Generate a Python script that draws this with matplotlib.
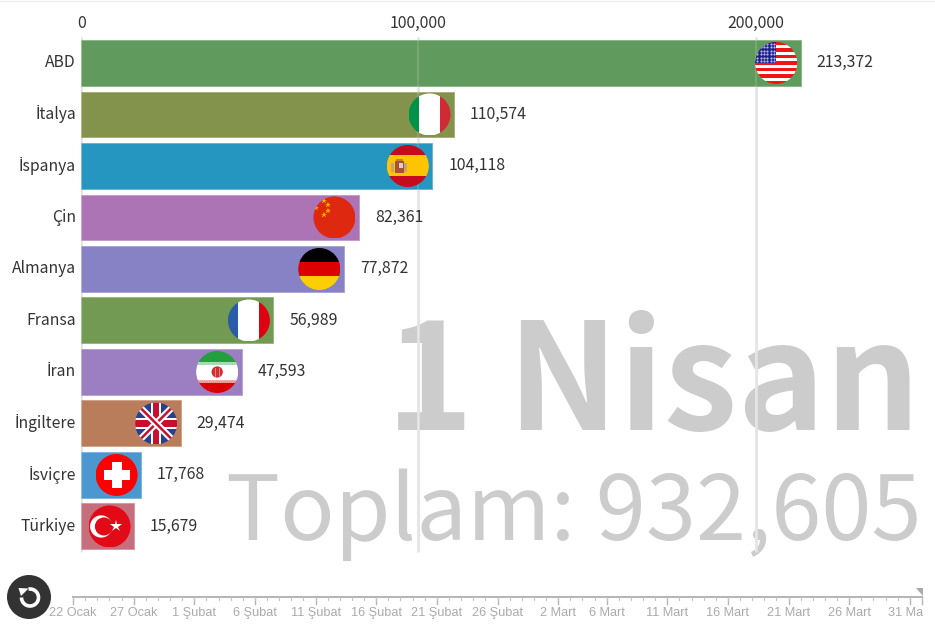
import numpy as np
import pandas as pd
import matplotlib
matplotlib.use("Agg")
import matplotlib.pyplot as plt
from matplotlib.patches import Circle, Rectangle, Polygon, Arc
from matplotlib.transforms import Bbox

W, H = 935, 634

countries = ["ABD", "İtalya", "İspanya", "Çin", "Almanya", "Fransa", "İran", "İngiltere", "İsviçre", "Türkiye"]
values = [213372, 110574, 104118, 82361, 77872, 56989, 47593, 29474, 17768, 15679]
bar_colors = ["#619a5d", "#84934c", "#2596bf", "#ad74b5", "#8781c6", "#739a52", "#9b7fc2", "#b97d5b", "#4b97cf", "#c76e7d"]
edge_colors = ["#8db68a", "#a6b07c", "#6bb5d2", "#c59ccb", "#aaa5d6", "#9bb684", "#b8a3d3", "#cda389", "#7fb5dd", "#d898a3"]
x_ticks = [0, 100000, 200000]
date_ticks = ["2020-01-22", "2020-01-27", "2020-02-01", "2020-02-06", "2020-02-11", "2020-02-16", "2020-02-21",
              "2020-02-26", "2020-03-02", "2020-03-06", "2020-03-11", "2020-03-16", "2020-03-21", "2020-03-26", "2020-03-31"]
date_labels = ["22 Ocak", "27 Ocak", "1 Şubat", "6 Şubat", "11 Şubat", "16 Şubat", "21 Şubat",
               "26 Şubat", "2 Mart", "6 Mart", "11 Mart", "16 Mart", "21 Mart", "26 Mart", "31 Mart"]
date_end = "2020-04-01"
date_title = "1 Nisan"
total_text = "Toplam: 932,605"

plt.rcParams["font.family"] = ["Noto Sans CJK SC", "DejaVu Sans"]
fig = plt.figure(figsize=(W / 100, H / 100), dpi=100, facecolor="w")


def px_rect(left, top, right, bottom):
    return [left / W, 1 - bottom / H, (right - left) / W, (bottom - top) / H]


# main bars
ax = fig.add_axes(px_rect(81.2, 32, W, 553))
ax.set_xlim(0, (W - 81.2) / 337.2 * 100000)
ax.set_ylim(9.515, -0.602)
ax.patch.set_alpha(0)
ax.barh(range(len(values)), values, height=0.893, color=bar_colors, edgecolor=edge_colors, lw=0.7, zorder=2)
ax.vlines(x_ticks, -0.5, 9.5, color="#e2e2e2", lw=2, zorder=1)
ax.vlines(x_ticks, -0.5, 9.5, color="#ffffff", lw=1.6, alpha=0.13, zorder=3)
ax.set_yticks([])
ax.set_xticks(x_ticks, [f"{x:,}" for x in x_ticks], fontsize=11.4, color="#333333")
ax.xaxis.tick_top()
ax.tick_params(length=0, axis="both")
ax.tick_params(axis="x", pad=0)
for s in ax.spines.values():
    s.set_visible(False)
for i, (name, v) in enumerate(zip(countries, values)):
    ax.annotate(name, (0, i), xytext=(-3.8, 1.6), textcoords="offset points", va="center_baseline", ha="right",
                fontsize=11.3, color="#333333", annotation_clip=False)
    ax.annotate(f"{v:,}", (v, i), xytext=(11.5, 1.6), textcoords="offset points", va="center_baseline", ha="left",
                fontsize=11.4, color="#333333", zorder=5)

# big background text
ax_bg = fig.add_axes([0, 0, 1, 1], zorder=-1)
ax_bg.set_xlim(0, W)
ax_bg.set_ylim(H, 0)
ax_bg.axis("off")
ax_bg.text(920, 430, date_title, fontsize=107, fontweight="bold", color="#cccccc", ha="right", va="baseline")
ax_bg.text(921, 540, total_text, fontsize=65, color="#cccccc", ha="right", va="baseline")


# flags, unit circle coordinates
def stripes_h(a, cols, fracs=None):
    fracs = fracs or [1 / len(cols)] * len(cols)
    top = 1.0
    for c, f in zip(cols, fracs):
        a.add_patch(Rectangle((-1, top - 2 * f), 2, 2 * f, color=c, lw=0))
        top -= 2 * f


def stripes_v(a, cols):
    a.add_patch(Rectangle((-1, -1), 0.5, 2, color=cols[0], lw=0))
    a.add_patch(Rectangle((-0.5, -1), 1, 2, color=cols[1], lw=0))
    a.add_patch(Rectangle((0.5, -1), 0.5, 2, color=cols[2], lw=0))


def flag_us(a):
    stripes_h(a, ["#f01414", "#ffffff"] * 6 + ["#f01414"])
    a.add_patch(Rectangle((-1, 0), 1, 1, color="#1c1f8f", lw=0))
    xs, ys = np.meshgrid(np.linspace(-0.9, -0.1, 6), np.linspace(0.1, 0.9, 6))
    a.plot(xs.ravel(), ys.ravel(), ls="", marker=".", ms=1.0, color="#d8d8f0")


def flag_it(a):
    stripes_v(a, ["#009246", "#ffffff", "#ce2b37"])


def flag_es(a):
    stripes_h(a, ["#c60b1e", "#ffc400", "#c60b1e"], [0.25, 0.5, 0.25])
    a.add_patch(Rectangle((-0.6, -0.32), 0.42, 0.55, color="#a8503a", lw=0))
    a.add_patch(Rectangle((-0.8, -0.28), 0.14, 0.42, color="#c9a27a", lw=0))
    a.add_patch(Rectangle((-0.16, -0.28), 0.12, 0.42, color="#c9a27a", lw=0))
    a.add_patch(Rectangle((-0.42, -0.1), 0.2, 0.26, color="#d8d0d0", lw=0))
    a.add_patch(Rectangle((-0.56, 0.22), 0.34, 0.12, color="#b8863a", lw=0))


def flag_cn(a):
    a.add_patch(Rectangle((-1, -1), 2, 2, color="#de2910", lw=0))
    a.plot([-0.52, -0.31, -0.31, -0.52, -0.87], [0.8, 0.6, 0.29, 0.1, 0.45], ls="", marker="*", ms=4.2,
           color="#ffb400", mew=0)


def flag_de(a):
    stripes_h(a, ["#000000", "#dd0000", "#ffce00"])


def flag_fr(a):
    stripes_v(a, ["#2a5ba8", "#ffffff", "#e1000f"])


def flag_ir(a):
    stripes_h(a, ["#239f40", "#ffffff", "#da0000"], [0.27, 0.45, 0.28])
    a.plot(np.linspace(-1, 1, 22), np.full(22, 0.44), ls="", marker="s", ms=1.0, color="#a6d8b2")
    a.plot(np.linspace(-1, 1, 22), np.full(22, -0.44), ls="", marker="s", ms=1.0, color="#f0a0a0")
    a.add_patch(Circle((0, 0), 0.27, color="#cf3030", lw=0))
    a.plot([-0.1, -0.1], [-0.2, 0.2], color="#ffc8c8", lw=0.4)
    a.plot([0.1, 0.1], [-0.2, 0.2], color="#ffc8c8", lw=0.4)


def flag_gb(a):
    a.add_patch(Rectangle((-1, -1), 2, 2, color="#27408f", lw=0))
    for sx in (1, -1):
        a.plot([-sx, sx], [-1, 1], color="#ffffff", lw=4.8, solid_capstyle="butt")
        a.plot([-sx, sx], [-1, 1], color="#c8102e", lw=1.8, solid_capstyle="butt")
    a.add_patch(Rectangle((-0.25, -1), 0.5, 2, color="#ffffff", lw=0))
    a.add_patch(Rectangle((-1, -0.25), 2, 0.5, color="#ffffff", lw=0))
    a.add_patch(Rectangle((-0.16, -1), 0.32, 2, color="#c8102e", lw=0))
    a.add_patch(Rectangle((-1, -0.16), 2, 0.32, color="#c8102e", lw=0))


def flag_ch(a):
    a.add_patch(Rectangle((-1, -1), 2, 2, color="#ff0000", lw=0))
    a.add_patch(Rectangle((-0.24, -0.62), 0.48, 1.24, color="#ffffff", lw=0))
    a.add_patch(Rectangle((-0.62, -0.24), 1.24, 0.48, color="#ffffff", lw=0))


def flag_tr(a):
    a.add_patch(Rectangle((-1, -1), 2, 2, color="#e30a17", lw=0))
    a.add_patch(Circle((-0.4, 0), 0.53, color="#ffffff", lw=0))
    a.add_patch(Circle((-0.27, 0), 0.43, color="#e30a17", lw=0))
    a.plot([0.32], [0], ls="", marker="*", ms=9, color="#ffffff", mew=0)


flags = [flag_us, flag_it, flag_es, flag_cn, flag_de, flag_fr, flag_ir, flag_gb, flag_ch, flag_tr]
r = 21
for i, (v, fn) in enumerate(zip(values, flags)):
    dx, dy = ax.transData.transform((v, i))
    cx = dx - 24.5
    cy = H - dy
    a = fig.add_axes(px_rect(cx - r, cy - r, cx + r, cy + r), zorder=4)
    a.set_xlim(-1, 1)
    a.set_ylim(-1, 1)
    a.axis("off")
    fn(a)
    clip = Circle((0, 0), 1, transform=a.transData)
    for art in a.patches + a.lines:
        art.set_clip_path(clip)

# timeline
ax_t = fig.add_axes(px_rect(73, 590, 922, 620))
start = pd.Timestamp(date_ticks[0])
end = pd.Timestamp(date_end)
tick_days = [(pd.Timestamp(d) - start).days for d in date_ticks]
n_days = (end - start).days
ax_t.set_xlim(0, n_days)
ax_t.set_ylim(0, 1)
ax_t.axis("off")
ax_t.plot([0, n_days], [0.77, 0.77], color="#b4b4b4", lw=1.4, clip_on=False)
for d in tick_days + [n_days]:
    ax_t.plot([d, d], [0.77, 0.53], color="#b4b4b4", lw=1, clip_on=False)
for d in range(n_days + 1):
    ax_t.plot([d, d], [0.77, 0.67], color="#c4c4c4", lw=0.8, clip_on=False)
clip_box = Bbox([[0, 0], [923, H]])
for d, lab in zip(tick_days, date_labels):
    t = ax_t.text(d, 0.22, lab, ha="center", va="center", fontsize=9.2, color="#aaaaaa",
                  family="Liberation Sans", clip_on=True)
    t.set_clip_box(clip_box)

# replay button and slider handle
ax_p = fig.add_axes([0, 0, 1, 1], zorder=6)
ax_p.set_xlim(0, W)
ax_p.set_ylim(H, 0)
ax_p.axis("off")
ax_p.axhline(0.5, color="#efefef", lw=1)
ax_p.add_patch(Circle((29, 597), 22, color="#333333", lw=0))
ax_p.add_patch(Arc((30, 597.5), 17, 17, theta1=-100, theta2=180, color="#ffffff", lw=2.6))
ax_p.add_patch(Polygon([[18.5, 588], [28.5, 588.5], [21, 596]], color="#ffffff", lw=0))
ax_p.add_patch(Polygon([[916, 588], [923, 588], [923, 596]], color="#aaaaaa", lw=0))

fig.savefig("out.png", dpi=100, facecolor="w")
